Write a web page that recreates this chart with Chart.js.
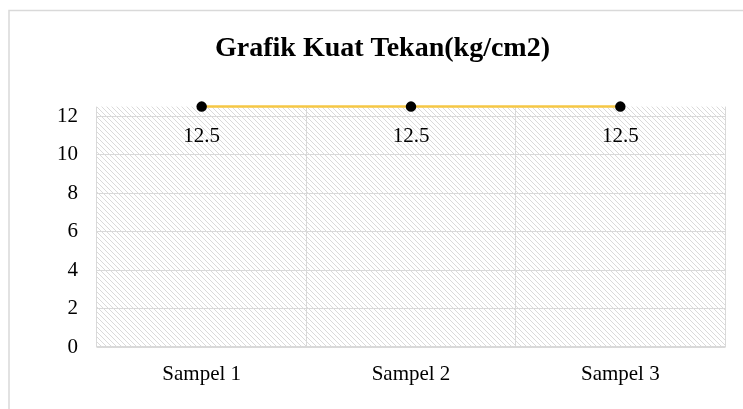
<!DOCTYPE html>
<html>
<head>
<meta charset="utf-8">
<script src="https://cdn.jsdelivr.net/npm/chart.js@4/dist/chart.umd.min.js"></script>
<style>
html,body{margin:0;padding:0;background:#fff;}
#wrap{width:743px;height:409px;position:relative;}
</style>
</head>
<body>
<div id="wrap"><canvas id="c" width="743" height="409"></canvas></div>
<script>
const categories = ["Sampel 1", "Sampel 2", "Sampel 3"];
const kuatTekan = [12.5, 12.5, 12.5];
const yTickValues = [0, 2, 4, 6, 8, 10, 12];
const chartTitle = "Grafik Kuat Tekan(kg/cm2)";

const FONT = "'Liberation Serif', 'Times New Roman', serif";

function makeHatch() {
  const s = 5;
  const p = document.createElement('canvas');
  p.width = s; p.height = s;
  const g = p.getContext('2d');
  g.fillStyle = '#ffffff';
  g.fillRect(0, 0, s, s);
  g.strokeStyle = '#dadada';
  g.lineWidth = 1;
  g.beginPath();
  g.moveTo(-1, -1); g.lineTo(s + 1, s + 1);
  g.moveTo(-1 - s, -1); g.lineTo(1, s + 1);
  g.moveTo(s - 1, -1); g.lineTo(2 * s + 1, s + 1);
  g.stroke();
  return g.createPattern(p, 'repeat');
}

const bgPlugin = {
  id: 'bg',
  beforeDraw(chart) {
    const ctx = chart.ctx;
    const a = chart.chartArea;
    ctx.save();
    ctx.fillStyle = '#ffffff';
    ctx.fillRect(0, 0, chart.width, chart.height);
    ctx.strokeStyle = '#d9d9d9';
    ctx.lineWidth = 1.5;
    ctx.beginPath();
    ctx.moveTo(9, chart.height + 5);
    ctx.lineTo(9, 10.5);
    ctx.lineTo(chart.width + 5, 10.5);
    ctx.stroke();
    ctx.fillStyle = makeHatch();
    ctx.fillRect(a.left, a.top, a.right - a.left, a.bottom - a.top);
    ctx.restore();
  }
};

const labelPlugin = {
  id: 'vlabels',
  afterDatasetsDraw(chart) {
    const ctx = chart.ctx;
    const meta = chart.getDatasetMeta(0);
    ctx.save();
    ctx.font = "21px " + FONT;
    ctx.fillStyle = '#000';
    ctx.textAlign = 'center';
    ctx.textBaseline = 'middle';
    meta.data.forEach((pt, i) => {
      ctx.fillText(String(kuatTekan[i]), pt.x, pt.y + 30);
    });
    ctx.restore();
  }
};

new Chart(document.getElementById('c'), {
  type: 'line',
  data: {
    labels: categories,
    datasets: [{
      data: kuatTekan,
      borderColor: '#F6C744',
      borderWidth: 2.5,
      pointBackgroundColor: '#000',
      pointBorderColor: '#000',
      pointRadius: 4,
      pointHoverRadius: 4,
      tension: 0,
      clip: false
    }]
  },
  options: {
    responsive: false,
    animation: false,
    events: [],
    layout: { padding: { left: 40, right: 18, top: 0, bottom: 0 } },
    plugins: {
      legend: { display: false },
      tooltip: { enabled: false },
      title: {
        display: true,
        text: chartTitle,
        color: '#000',
        font: { family: FONT, size: 28, weight: 'bold', lineHeight: 1.2 },
        padding: { top: 32, bottom: 41 }
      }
    },
    scales: {
      x: {
        offset: true,
        grid: { display: true, offset: true, color: '#d9d9d9', lineWidth: 1, drawTicks: false },
        border: { display: true, color: '#d9d9d9', width: 1.5 },
        ticks: { color: '#000', font: { family: FONT, size: 21 }, padding: 15, maxRotation: 0 },
        afterFit(scale) { scale.height = 62; }
      },
      y: {
        min: 0,
        max: 12.5,
        grid: { color: '#d9d9d9', lineWidth: 1, drawTicks: false },
        border: { display: false },
        ticks: { stepSize: 2, color: '#000', font: { family: FONT, size: 21 }, padding: 19 },
        afterBuildTicks(scale) { scale.ticks = yTickValues.map(v => ({ value: v })); },
        afterFit(scale) { scale.width = 57; }
      }
    }
  },
  plugins: [bgPlugin, labelPlugin]
});
</script>
</body>
</html>
